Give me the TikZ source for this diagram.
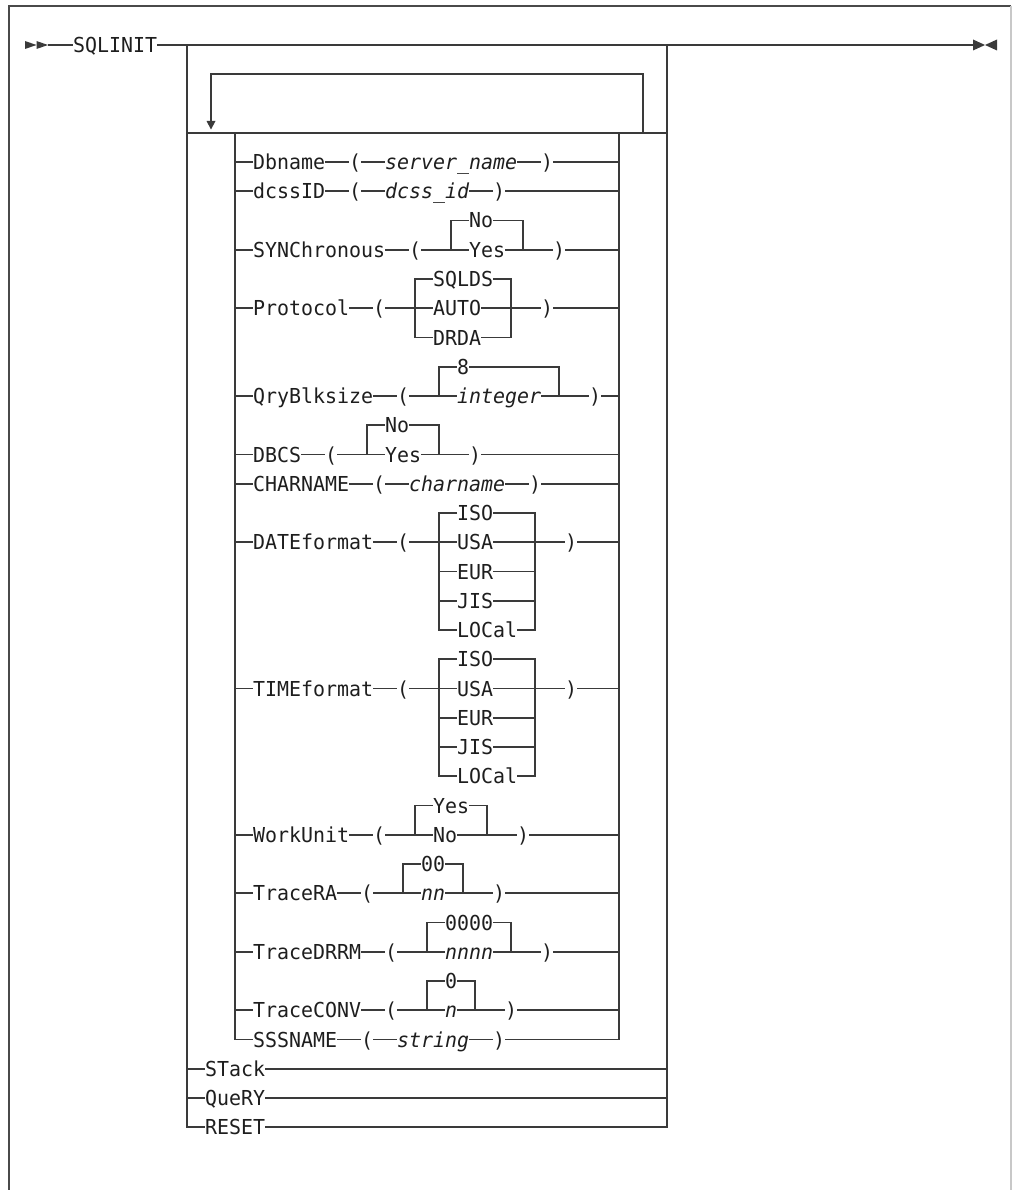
\documentclass[tikz,border=0pt]{standalone}
\usepackage{fontspec}
\newfontfamily\monofam{DejaVu Sans Mono}[FakeStretch=0.9676]
\newcommand\mfont{\monofam\fontsize{20.6}{24}\selectfont}
\definecolor{lc}{HTML}{3A3A3A}
\definecolor{tc}{HTML}{1E1E1E}
\definecolor{fdark}{HTML}{4A4A4A}
\definecolor{flight}{HTML}{C8C8C8}
\tikzset{
  ln/.style={line width=1.6pt, draw=lc},
  tx/.style={font=\mfont, text=tc, inner sep=0pt, text height=15pt, text depth=0pt, anchor=west},
  tit/.style={tx, font=\mfont\itshape},
}
\newcommand\Tx[4]{\node[tx] (#1) at ({25+12*(#2)},{45+29.25*(#3)}) {#4};}
\newcommand\Ti[4]{\node[tit] (#1) at ({25+12*(#2)},{45+29.25*(#3)}) {#4};}
\newcommand\Jn[3]{\coordinate (#1) at ({31+12*(#2)},{45+29.25*(#3)});}
\begin{document}
\begin{tikzpicture}[x=1pt,y=-1pt]
\useasboundingbox (0,0) rectangle (1013,1190);
% frame
\draw[line width=1.5pt, draw=fdark] (9,1190) -- (9,6) -- (1011,6);
\draw[line width=1.2pt, draw=flight] (1011,6) -- (1011,1190);

% main line
\fill[lc] (25,41) -- (36.5,45) -- (25,49) -- cycle;
\fill[lc] (36.5,41) -- (48,45) -- (36.5,49) -- cycle;
\coordinate (s0) at (48,45);
\coordinate (e0) at (973,45);
\fill[lc] (973,39.5) -- (985,45) -- (973,50.5) -- cycle;
\fill[lc] (997,39.5) -- (985,45) -- (997,50.5) -- cycle;
\Tx{sql}{4}{0}{SQLINIT}
\draw[ln] (s0) -- (sql.west);
\draw[ln] (sql.east) -- (e0);

% outer box
\Jn{oTL}{13}{0}\Jn{oTR}{53}{0}\Jn{oBL}{13}{37}\Jn{oBR}{53}{37}
\Tx{st}{15}{35}{STack}
\Tx{qy}{15}{36}{QueRY}
\Tx{rs}{15}{37}{RESET}
\draw[ln] (oTL) -- (oBL) -- (rs.west);
\draw[ln] (rs.east) -- (oBR) -- (oTR);
\draw[ln] (oTL |- st.west) -- (st.west) (st.east) -- (oTR |- st.east);
\draw[ln] (oTL |- qy.west) -- (qy.west) (qy.east) -- (oTR |- qy.east);

% group row and repeat loop
\Jn{gL}{13}{3}\Jn{gR}{53}{3}
\draw[ln] (gL) -- (gR);
\Jn{lA}{15}{1}\Jn{lB}{51}{1}\Jn{lC}{51}{3}
\coordinate (lT) at (211,122);
\draw[ln] (lC) -- (lB) -- (lA) -- (lT);
\fill[lc] (206.5,121) -- (215.5,121) -- (211,129.5) -- cycle;

% inner box
\Jn{iTL}{17}{3}\Jn{iTR}{49}{3}\Jn{iBL}{17}{34}\Jn{iBR}{49}{34}

% Dbname
\Tx{db}{19}{4}{Dbname}\Tx{dbl}{27}{4}{(}\Ti{dbv}{30}{4}{server\_name}\Tx{dbr}{43}{4}{)}
\draw[ln] (iTL |- db.west) -- (db.west) (db.east) -- (dbl.west) (dbl.east) -- (dbv.west) (dbv.east) -- (dbr.west) (dbr.east) -- (iTR |- dbr.east);

% dcssID
\Tx{dc}{19}{5}{dcssID}\Tx{dcl}{27}{5}{(}\Ti{dcv}{30}{5}{dcss\_id}\Tx{dcr}{39}{5}{)}
\draw[ln] (iTL |- dc.west) -- (dc.west) (dc.east) -- (dcl.west) (dcl.east) -- (dcv.west) (dcv.east) -- (dcr.west) (dcr.east) -- (iTR |- dcr.east);

% SYNChronous
\Tx{sy}{19}{7}{SYNChronous}\Tx{syl}{32}{7}{(}\Tx{syno}{37}{6}{No}\Tx{syyes}{37}{7}{Yes}\Tx{syr}{44}{7}{)}
\Jn{syA}{35}{7}\Jn{syB}{41}{7}
\draw[ln] (iTL |- sy.west) -- (sy.west) (sy.east) -- (syl.west) (syl.east) -- (syyes.west) (syyes.east) -- (syr.west) (syr.east) -- (iTR |- syr.east);
\draw[ln] (syA) |- (syno.west) (syno.east) -| (syB);

% Protocol
\Tx{pr}{19}{9}{Protocol}\Tx{prl}{29}{9}{(}\Tx{prs}{34}{8}{SQLDS}\Tx{pra}{34}{9}{AUTO}\Tx{prd}{34}{10}{DRDA}\Tx{prr}{43}{9}{)}
\Jn{prA}{32}{9}\Jn{prB}{40}{9}
\draw[ln] (iTL |- pr.west) -- (pr.west) (pr.east) -- (prl.west) (prl.east) -- (pra.west) (pra.east) -- (prr.west) (prr.east) -- (iTR |- prr.east);
\draw[ln] (prs.west) -| (prA |- prd.west) -- (prd.west);
\draw[ln] (prs.east) -| (prB |- prd.east) -- (prd.east);

% QryBlksize
\Tx{qb}{19}{12}{QryBlksize}\Tx{qbl}{31}{12}{(}\Tx{qbe}{36}{11}{8}\Ti{qbi}{36}{12}{integer}\Tx{qbr}{47}{12}{)}
\Jn{qbA}{34}{12}\Jn{qbB}{44}{12}
\draw[ln] (iTL |- qb.west) -- (qb.west) (qb.east) -- (qbl.west) (qbl.east) -- (qbi.west) (qbi.east) -- (qbr.west) (qbr.east) -- (iTR |- qbr.east);
\draw[ln] (qbA) |- (qbe.west) (qbe.east) -| (qbB);

% DBCS
\Tx{ds}{19}{14}{DBCS}\Tx{dsl}{25}{14}{(}\Tx{dsno}{30}{13}{No}\Tx{dsyes}{30}{14}{Yes}\Tx{dsr}{37}{14}{)}
\Jn{dsA}{28}{14}\Jn{dsB}{34}{14}
\draw[ln] (iTL |- ds.west) -- (ds.west) (ds.east) -- (dsl.west) (dsl.east) -- (dsyes.west) (dsyes.east) -- (dsr.west) (dsr.east) -- (iTR |- dsr.east);
\draw[ln] (dsA) |- (dsno.west) (dsno.east) -| (dsB);

% CHARNAME
\Tx{cn}{19}{15}{CHARNAME}\Tx{cnl}{29}{15}{(}\Ti{cnv}{32}{15}{charname}\Tx{cnr}{42}{15}{)}
\draw[ln] (iTL |- cn.west) -- (cn.west) (cn.east) -- (cnl.west) (cnl.east) -- (cnv.west) (cnv.east) -- (cnr.west) (cnr.east) -- (iTR |- cnr.east);

% DATEformat
\Tx{df}{19}{17}{DATEformat}\Tx{dfl}{31}{17}{(}
\Tx{dfiso}{36}{16}{ISO}\Tx{dfusa}{36}{17}{USA}\Tx{dfeur}{36}{18}{EUR}\Tx{dfjis}{36}{19}{JIS}\Tx{dfloc}{36}{20}{LOCal}
\Tx{dfr}{45}{17}{)}
\Jn{dfA}{34}{17}\Jn{dfB}{42}{17}
\draw[ln] (iTL |- df.west) -- (df.west) (df.east) -- (dfl.west) (dfl.east) -- (dfusa.west) (dfusa.east) -- (dfr.west) (dfr.east) -- (iTR |- dfr.east);
\draw[ln] (dfiso.west) -| (dfA |- dfloc.west) -- (dfloc.west);
\draw[ln] (dfiso.east) -| (dfB |- dfloc.east) -- (dfloc.east);
\draw[ln] (dfA |- dfeur.west) -- (dfeur.west) (dfeur.east) -- (dfB |- dfeur.east);
\draw[ln] (dfA |- dfjis.west) -- (dfjis.west) (dfjis.east) -- (dfB |- dfjis.east);

% TIMEformat
\Tx{tf}{19}{22}{TIMEformat}\Tx{tfl}{31}{22}{(}
\Tx{tfiso}{36}{21}{ISO}\Tx{tfusa}{36}{22}{USA}\Tx{tfeur}{36}{23}{EUR}\Tx{tfjis}{36}{24}{JIS}\Tx{tfloc}{36}{25}{LOCal}
\Tx{tfr}{45}{22}{)}
\Jn{tfA}{34}{22}\Jn{tfB}{42}{22}
\draw[ln] (iTL |- tf.west) -- (tf.west) (tf.east) -- (tfl.west) (tfl.east) -- (tfusa.west) (tfusa.east) -- (tfr.west) (tfr.east) -- (iTR |- tfr.east);
\draw[ln] (tfiso.west) -| (tfA |- tfloc.west) -- (tfloc.west);
\draw[ln] (tfiso.east) -| (tfB |- tfloc.east) -- (tfloc.east);
\draw[ln] (tfA |- tfeur.west) -- (tfeur.west) (tfeur.east) -- (tfB |- tfeur.east);
\draw[ln] (tfA |- tfjis.west) -- (tfjis.west) (tfjis.east) -- (tfB |- tfjis.east);

% WorkUnit
\Tx{wu}{19}{27}{WorkUnit}\Tx{wul}{29}{27}{(}\Tx{wuy}{34}{26}{Yes}\Tx{wun}{34}{27}{No}\Tx{wur}{41}{27}{)}
\Jn{wuA}{32}{27}\Jn{wuB}{38}{27}
\draw[ln] (iTL |- wu.west) -- (wu.west) (wu.east) -- (wul.west) (wul.east) -- (wun.west) (wun.east) -- (wur.west) (wur.east) -- (iTR |- wur.east);
\draw[ln] (wuA) |- (wuy.west) (wuy.east) -| (wuB);

% TraceRA
\Tx{tr}{19}{29}{TraceRA}\Tx{trl}{28}{29}{(}\Tx{trd}{33}{28}{00}\Ti{trv}{33}{29}{nn}\Tx{trr}{39}{29}{)}
\Jn{trA}{31}{29}\Jn{trB}{36}{29}
\draw[ln] (iTL |- tr.west) -- (tr.west) (tr.east) -- (trl.west) (trl.east) -- (trv.west) (trv.east) -- (trr.west) (trr.east) -- (iTR |- trr.east);
\draw[ln] (trA) |- (trd.west) (trd.east) -| (trB);

% TraceDRRM
\Tx{td}{19}{31}{TraceDRRM}\Tx{tdl}{30}{31}{(}\Tx{tdd}{35}{30}{0000}\Ti{tdv}{35}{31}{nnnn}\Tx{tdr}{43}{31}{)}
\Jn{tdA}{33}{31}\Jn{tdB}{40}{31}
\draw[ln] (iTL |- td.west) -- (td.west) (td.east) -- (tdl.west) (tdl.east) -- (tdv.west) (tdv.east) -- (tdr.west) (tdr.east) -- (iTR |- tdr.east);
\draw[ln] (tdA) |- (tdd.west) (tdd.east) -| (tdB);

% TraceCONV
\Tx{tcv0}{19}{33}{TraceCONV}\Tx{tcl}{30}{33}{(}\Tx{tcd}{35}{32}{0}\Ti{tcn}{35}{33}{n}\Tx{tcr}{40}{33}{)}
\Jn{tcA}{33}{33}\Jn{tcB}{37}{33}
\draw[ln] (iTL |- tcv0.west) -- (tcv0.west) (tcv0.east) -- (tcl.west) (tcl.east) -- (tcn.west) (tcn.east) -- (tcr.west) (tcr.east) -- (iTR |- tcr.east);
\draw[ln] (tcA) |- (tcd.west) (tcd.east) -| (tcB);

% SSSNAME (bottom of inner box)
\Tx{ss}{19}{34}{SSSNAME}\Tx{ssl}{28}{34}{(}\Ti{ssv}{31}{34}{string}\Tx{ssr}{39}{34}{)}
\draw[ln] (iTL) -- (iBL) -- (ss.west);
\draw[ln] (ss.east) -- (ssl.west) (ssl.east) -- (ssv.west) (ssv.east) -- (ssr.west);
\draw[ln] (ssr.east) -- (iBR) -- (iTR);
\end{tikzpicture}
\end{document}
